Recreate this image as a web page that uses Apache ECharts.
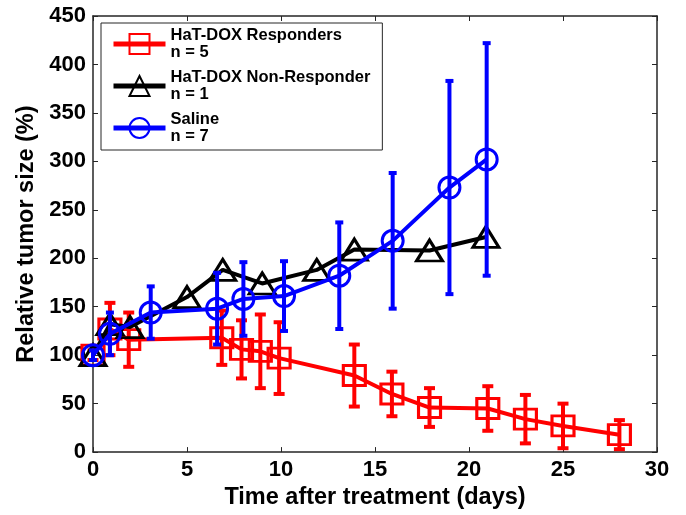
<!DOCTYPE html>
<html>
<head>
<meta charset="utf-8">
<script src="https://cdn.jsdelivr.net/npm/echarts@6/dist/echarts.min.js"></script>
<style>html,body{margin:0;padding:0;background:#fff}#c{width:686px;height:515px}</style>
</head>
<body>
<div id="c"></div>
<script>
// ---- data ----
const redName = 'HaT-DOX Responders';
const redN = 'n = 5';
const redX = [0, 0.9, 1.9, 6.85, 7.9, 8.9, 9.9, 13.9, 15.9, 17.9, 21, 23, 25, 28];
const redY = [100, 127, 116, 118, 106, 104, 97, 79, 60, 46, 45, 34, 27, 18];
const redErr = [5, 27, 28, 28, 30, 38, 37, 32, 23, 20, 23, 25, 23, 15];

const blackName = 'HaT-DOX Non-Responder';
const blackN = 'n = 1';
const blackX = [0, 0.9, 1.97, 5, 6.9, 9, 11.9, 13.9, 17.9, 20.9];
const blackY = [100, 132, 129, 160, 188, 174, 188, 209, 208, 222];

const blueName = 'Saline';
const blueN = 'n = 7';
const blueX = [0, 0.9, 3.07, 6.6, 8, 10.16, 13.1, 15.94, 18.96, 20.94];
const blueY = [100, 122, 144, 148, 158, 161, 182, 218, 273, 302];
const blueErr = [5, 22, 27, 37, 38, 36, 55, 70, 110, 120];

const xTitle = 'Time after treatment (days)';
const yTitle = 'Relative tumor size (%)';

// ---- build ----
const RED = '#ff0000', BLACK = '#000000', BLUE = '#0000ff';
const nLabels = {};
nLabels[redName] = redN; nLabels[blackName] = blackN; nLabels[blueName] = blueN;

function pts(xs, ys) { return xs.map((x, i) => [x, ys[i]]); }
function errPts(xs, ys, es) { return xs.map((x, i) => [x, ys[i] - es[i], ys[i] + es[i]]); }

function errSeries(name, color, data, hw, z) {
  return {
    type: 'custom', name: name, xAxisIndex: 0, yAxisIndex: 0, silent: true,
    encode: { x: 0, y: [1, 2] },
    data: data,
    renderItem: function (params, api) {
      const x = api.value(0), lo = api.value(1), hi = api.value(2);
      const p1 = api.coord([x, hi]), p2 = api.coord([x, lo]);
      const style = { stroke: color, lineWidth: 4, fill: null };
      return {
        type: 'group', children: [
          { type: 'line', shape: { x1: p1[0], y1: p1[1], x2: p2[0], y2: p2[1] }, style: style },
          { type: 'line', shape: { x1: p1[0] - hw, y1: p1[1], x2: p1[0] + hw, y2: p1[1] }, style: style },
          { type: 'line', shape: { x1: p2[0] - hw, y1: p2[1], x2: p2[0] + hw, y2: p2[1] }, style: style }
        ]
      };
    },
    z: z
  };
}

function lineSeries(name, color, symbol, size, data, z) {
  return {
    type: 'line', name: name, xAxisIndex: 0, yAxisIndex: 0,
    data: data, symbol: symbol, symbolSize: size, showAllSymbol: true,
    lineStyle: { color: color, width: 4 },
    itemStyle: { color: 'rgba(255,255,255,0)', borderColor: color, borderWidth: 3 },
    emphasis: { disabled: true },
    animation: false, z: z
  };
}

const axisCol = '#262626';
const FONT = 'Arial, "Liberation Sans", sans-serif';
const labelStyle = { color: '#000', fontFamily: FONT, fontWeight: 'bold', fontSize: 22 };
const titleStyle = { color: '#000', fontFamily: FONT, fontWeight: 'bold', fontSize: 23.5 };

const option = {
  animation: false,
  grid: { left: 93, right: 29, top: 16, bottom: 62 },
  legend: {
    orient: 'vertical', left: 101, top: 23,
    backgroundColor: '#fff', borderColor: axisCol, borderWidth: 1,
    padding: [4, 12, 5, 10],
    itemWidth: 52, itemHeight: 25, itemGap: 8,
    data: [redName, blackName, blueName],
    formatter: function (n) { return n + '\n' + nLabels[n]; },
    lineStyle: { width: 5 },
    textStyle: { color: '#000', fontFamily: FONT, fontWeight: 'bold', fontSize: 16.5, lineHeight: 17 },
    selectedMode: false
  },
  xAxis: [{
    type: 'value', min: 0, max: 30, interval: 5,
    name: xTitle, nameLocation: 'middle', nameGap: 31,
    nameTextStyle: titleStyle,
    axisLine: { show: true, lineStyle: { color: axisCol, width: 1.5 } },
    axisTick: { show: true, inside: true, length: 5, lineStyle: { color: axisCol, width: 1 } },
    axisLabel: Object.assign({ margin: 7 }, labelStyle),
    splitLine: { show: false }
  }, {
    type: 'value', min: 0, max: 30, interval: 5, position: 'top',
    axisLine: { show: true, onZero: false, lineStyle: { color: axisCol, width: 1.5 } },
    axisTick: { show: true, inside: true, length: 5, lineStyle: { color: axisCol, width: 1 } },
    axisLabel: { show: false }, splitLine: { show: false }
  }],
  yAxis: [{
    type: 'value', min: 0, max: 450, interval: 50,
    name: yTitle, nameLocation: 'middle', nameGap: 49,
    nameTextStyle: titleStyle,
    axisLine: { show: true, lineStyle: { color: axisCol, width: 1.5 } },
    axisTick: { show: true, inside: true, length: 5, lineStyle: { color: axisCol, width: 1 } },
    axisLabel: Object.assign({ margin: 7 }, labelStyle),
    splitLine: { show: false }
  }, {
    type: 'value', min: 0, max: 450, interval: 50, position: 'right',
    axisLine: { show: true, onZero: false, lineStyle: { color: axisCol, width: 1.5 } },
    axisTick: { show: true, inside: true, length: 5, lineStyle: { color: axisCol, width: 1 } },
    axisLabel: { show: false }, splitLine: { show: false }
  }],
  series: [
    errSeries('redErr', RED, errPts(redX, redY, redErr), 5.5, 2),
    lineSeries(redName, RED, 'rect', [22, 20], pts(redX, redY), 3),
    lineSeries(blackName, BLACK, 'triangle', [26, 21], pts(blackX, blackY), 4),
    errSeries('blueErr', BLUE, errPts(blueX, blueY, blueErr), 4, 5),
    lineSeries(blueName, BLUE, 'circle', 21, pts(blueX, blueY), 6)
  ]
};

const chart = echarts.init(document.getElementById('c'), null, { renderer: 'canvas' });
chart.setOption(option);
</script>
</body>
</html>
